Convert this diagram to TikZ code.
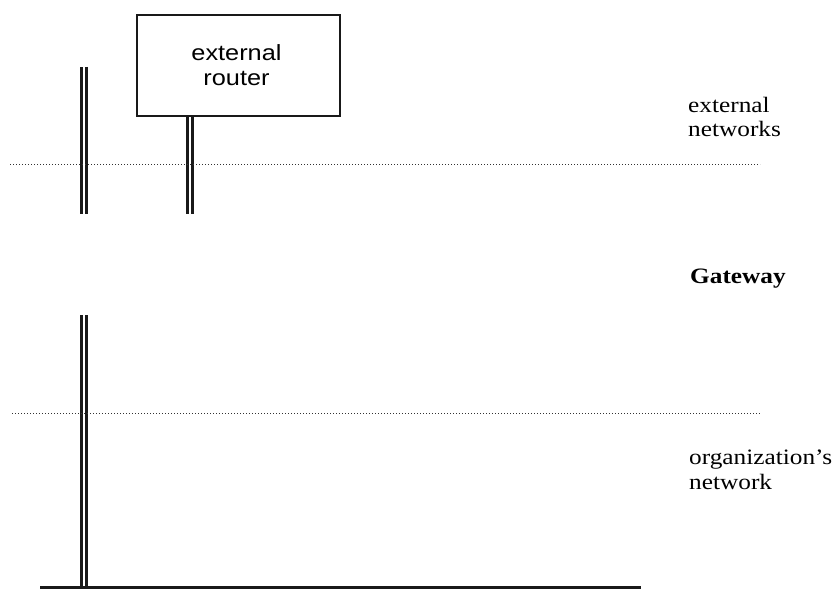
\documentclass[tikz,border=0pt]{standalone}
\usepackage{fontspec}
\usepackage{graphicx}
\setmainfont{Liberation Serif}
\newfontfamily\boxfont{Liberation Sans}
\tikzset{
  pole/.style={draw=black!90, line width=2.6pt, double=white, double distance=2.4pt},
  level/.style={draw=black!80, line width=1pt, dash pattern=on 1pt off 2pt},
  base/.style={draw=black!90, line width=3pt},
  routerbox/.style={draw=black!90, line width=2.4pt, minimum width=203pt, minimum height=101pt, inner sep=0pt, align=center, font=\boxfont\fontsize{22}{25}\selectfont},
  side/.style={anchor=base west, align=left, inner sep=0pt, font=\fontsize{22}{24.5}\selectfont}
}
\newcommand{\wx}[1]{\scalebox{1.15}[1]{#1}}
\begin{document}
\begin{tikzpicture}[x=1pt, y=-1pt]
\useasboundingbox (0,0) rectangle (835,591);
% router box
\node[routerbox] (router) at (238.5,65.5) {\hspace*{-4pt}\wx{external}\\\hspace*{-4pt}\wx{router}};
% poles
\coordinate (rp) at (190,214);
\draw[pole] (router.south -| rp) -- (rp);
\coordinate (lt) at (84,67);
\coordinate (lb) at (84,214);
\draw[pole] (lt) -- (lb);
\coordinate (gt) at (84,315);
\coordinate (gb) at (84,587);
\draw[pole] (gt) -- (gb);
% base network line
\coordinate (b1) at (40,587);
\coordinate (b2) at (641,587);
\draw[base] (b1) -- (b2);
% dotted level lines
\coordinate (d1a) at (10,164);
\coordinate (d1b) at (760,164);
\draw[level] (d1a) -- (d1b);
\coordinate (d2a) at (12,413);
\coordinate (d2b) at (760,413);
\draw[level] (d2a) -- (d2b);
% labels (anchor = baseline of the last line)
\node[side] (ext) at (688,137) {\wx{external}\\\wx{networks}};
\node[side, font=\bfseries\fontsize{22}{24}\selectfont] (gw) at (690,283) {\wx{Gateway}};
\node[side] (org) at (689,489) {\wx{organization's}\\\wx{network}};
\end{tikzpicture}
\end{document}
